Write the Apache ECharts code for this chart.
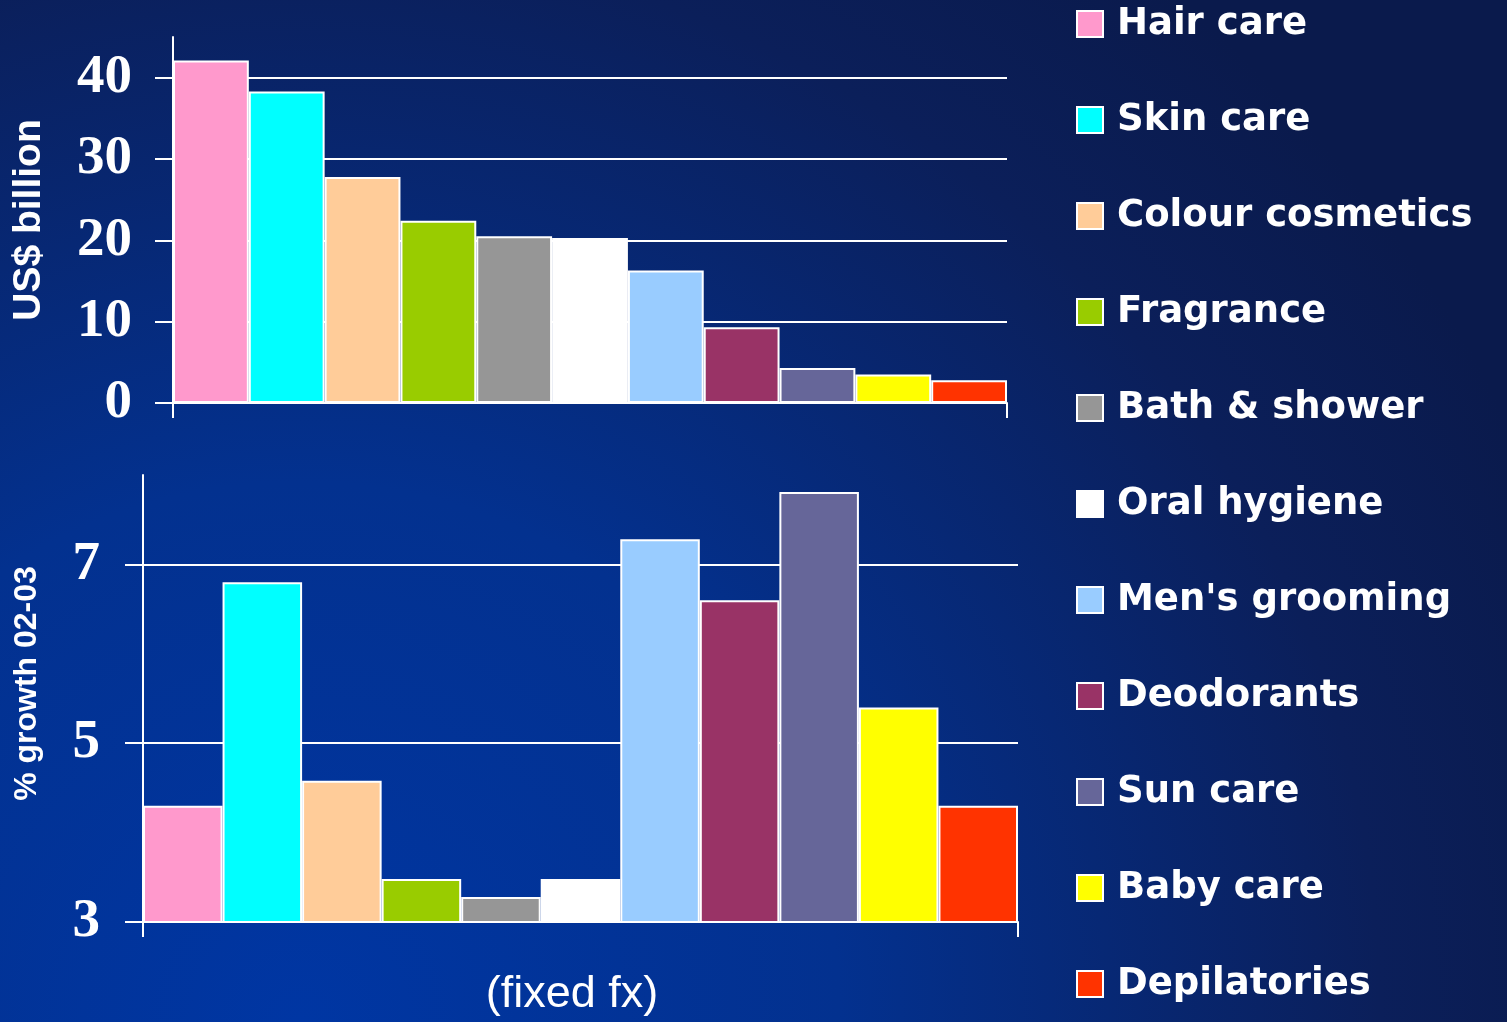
<!DOCTYPE html>
<html style="height: 100%">
<head>
<meta charset="utf-8">
</head>
<body style="height: 100%; margin: 0">
<div id="container" style="width: 1507px; height: 1022px"></div>
<script type="text/javascript" src="https://cdn.jsdelivr.net/npm/echarts@6/dist/echarts.min.js"></script>
<script type="text/javascript">
var categories = ['Hair care', 'Skin care', 'Colour cosmetics', 'Fragrance', 'Bath & shower',
    'Oral hygiene', "Men's grooming", 'Deodorants', 'Sun care', 'Baby care', 'Depilatories'];
var salesBn = [42.1, 38.3, 27.8, 22.4, 20.5, 20.3, 16.3, 9.3, 4.3, 3.5, 2.8];
var growthPct = [4.3, 6.8, 4.58, 3.48, 3.28, 3.48, 7.28, 6.6, 7.81, 5.4, 4.3];
var salesTicks = [0, 10, 20, 30, 40];
var growthTicks = [3, 5, 7];
var palette = ['#ff99cc', '#00ffff', '#ffcc99', '#99cc00', '#969696', '#ffffff',
    '#99ccff', '#993366', '#666699', '#ffff00', '#ff3300'];

var dom = document.getElementById('container');
var myChart = echarts.init(dom);

var white = '#ffffff';
var labelFont = {color: white, fontFamily: 'Liberation Serif', fontWeight: 'bold', fontSize: 55};

// one series per category, stacked, so each bar gets its own legend entry
function makeSeries(values, gridIdx) {
    return categories.map(function (name, i) {
        var data = values.map(function (v, j) { return j === i ? v : null; });
        return {
            name: name,
            type: 'bar',
            stack: 'g' + gridIdx,
            xAxisIndex: gridIdx,
            yAxisIndex: gridIdx,
            barCategoryGap: '0%',
            data: data,
            itemStyle: {color: palette[i], borderColor: white, borderWidth: 2},
            emphasis: {disabled: true}
        };
    });
}

function catAxis(gridIdx, name) {
    return {
        type: 'category',
        gridIndex: gridIdx,
        data: categories,
        axisLine: {lineStyle: {color: white, width: 2}},
        axisTick: {show: false},
        axisLabel: {show: false},
        name: name || '',
        nameLocation: 'middle',
        nameGap: 50,
        nameTextStyle: {color: white, fontFamily: 'Liberation Sans', fontSize: 45, padding: [0, 17, 0, 0]},
        z: 5
    };
}

// helper axis only for the two end ticks under each plot
function endTickAxis(gridIdx) {
    return {
        type: 'value',
        gridIndex: gridIdx,
        min: 0,
        max: categories.length,
        position: 'bottom',
        axisLine: {show: false},
        axisTick: {show: true, length: 15, customValues: [0, categories.length], lineStyle: {color: white, width: 2}},
        axisLabel: {show: false},
        splitLine: {show: false}
    };
}

var option = {
    backgroundColor: {
        type: 'radial', x: 300, y: 1022, r: 1350, global: true,
        colorStops: [
            {offset: 0, color: '#0036a3'},
            {offset: 0.4, color: '#03318f'},
            {offset: 0.8, color: '#0b1f5a'},
            {offset: 1, color: '#0a1a4c'}
        ]
    },
    animation: false,
    legend: {
        data: categories,
        orient: 'vertical',
        left: 1071,
        top: -3,
        itemWidth: 26,
        itemHeight: 26,
        itemGap: 52,
        icon: 'rect',
        selectedMode: false,
        textStyle: {color: white, fontFamily: 'DejaVu Sans', fontWeight: 'bold', fontSize: 37,
            lineHeight: 44, padding: [0, 0, 0, 9]}
    },
    grid: [
        {left: 173, right: 500, top: 37, bottom: 619},
        {left: 143, right: 489, top: 475, bottom: 100}
    ],
    xAxis: [catAxis(0), catAxis(1, '(fixed fx)'), endTickAxis(0), endTickAxis(1)],
    yAxis: [
        {
            type: 'value', gridIndex: 0, min: 0, max: 45, interval: 10,
            axisLine: {show: true, lineStyle: {color: white, width: 2}},
            axisTick: {show: true, length: 18, customValues: salesTicks, lineStyle: {color: white, width: 2}},
            axisLabel: Object.assign({margin: 41, customValues: salesTicks}, labelFont),
            splitLine: {show: true, showMinLine: false, lineStyle: {color: white, width: 2}},
            name: 'US$ billion', nameLocation: 'middle', nameRotate: 90, nameGap: 124,
            nameTextStyle: {color: white, fontFamily: 'Liberation Sans', fontWeight: 'bold', fontSize: 39}
        },
        {
            type: 'value', gridIndex: 1, min: 3, max: 8, interval: 2,
            axisLine: {show: true, lineStyle: {color: white, width: 2}},
            axisTick: {show: true, length: 18, customValues: growthTicks, lineStyle: {color: white, width: 2}},
            axisLabel: Object.assign({margin: 43, customValues: growthTicks}, labelFont),
            splitLine: {show: true, showMinLine: false, lineStyle: {color: white, width: 2}},
            name: '% growth 02-03', nameLocation: 'middle', nameRotate: 90, nameGap: 100,
            nameTextStyle: {color: white, fontFamily: 'Liberation Sans', fontWeight: 'bold', fontSize: 32,
                padding: [0, 0, 0, 30]}
        }
    ],
    series: makeSeries(salesBn, 0).concat(makeSeries(growthPct, 1))
};

if (option && typeof option === 'object') {
    myChart.setOption(option, true);
}
</script>
</body>
</html>
